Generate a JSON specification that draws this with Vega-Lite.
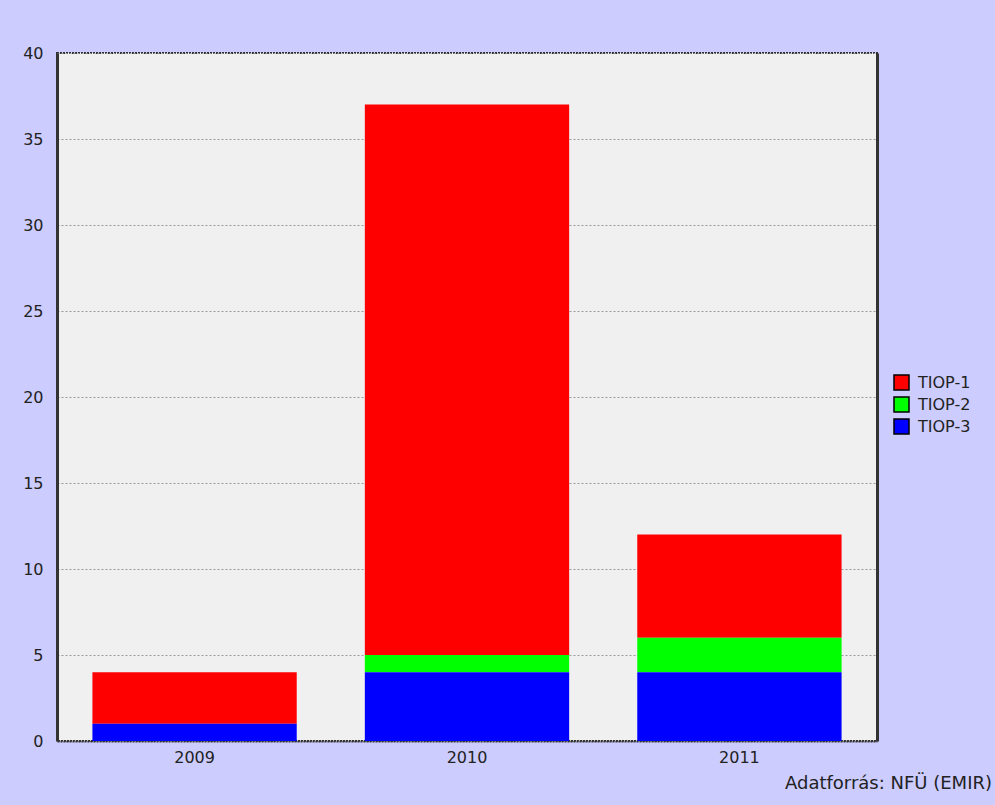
{
  "$schema": "https://vega.github.io/schema/vega-lite/v6.json",
  "width": 820,
  "height": 688,
  "autosize": {"type": "none"},
  "padding": {"left": 57, "top": 53, "right": 118, "bottom": 64},
  "background": "#CCCCFF",
  "view": {"fill": "#F0F0F0", "stroke": "#333333", "strokeWidth": 2, "strokeDash": [2, 1]},
  "title": {
    "text": "Adatforrás: NFÜ (EMIR)",
    "orient": "bottom",
    "anchor": "end",
    "frame": "group",
    "align": "right",
    "dx": 115,
    "offset": 10,
    "font": "DejaVu Sans",
    "fontSize": 18,
    "fontWeight": "normal",
    "color": "#222222"
  },
  "data": {
    "values": [
      {"year": "2009", "series": "TIOP-1", "value": 3},
      {"year": "2009", "series": "TIOP-2", "value": 0},
      {"year": "2009", "series": "TIOP-3", "value": 1},
      {"year": "2010", "series": "TIOP-1", "value": 32},
      {"year": "2010", "series": "TIOP-2", "value": 1},
      {"year": "2010", "series": "TIOP-3", "value": 4},
      {"year": "2011", "series": "TIOP-1", "value": 6},
      {"year": "2011", "series": "TIOP-2", "value": 2},
      {"year": "2011", "series": "TIOP-3", "value": 4}
    ]
  },
  "config": {
    "font": "DejaVu Sans"
  },
  "layer": [
    {
      "mark": {"type": "bar"},
      "encoding": {
        "x": {
          "field": "year",
          "type": "nominal",
          "scale": {"paddingInner": 0.25, "paddingOuter": 0.13},
          "axis": {
            "title": null,
            "labelAngle": 0,
            "ticks": false,
            "domain": true,
            "domainColor": "#333333",
            "domainWidth": 2,
            "domainDash": [2, 1],
            "labelFont": "DejaVu Sans",
            "labelFontSize": 16,
            "labelColor": "#222222",
            "labelPadding": 8
          }
        },
        "y": {
          "field": "value",
          "type": "quantitative",
          "aggregate": "sum",
          "stack": "zero",
          "scale": {"domain": [0, 40], "nice": false},
          "axis": {
            "title": null,
            "values": [0, 5, 10, 15, 20, 25, 30, 35, 40],
            "ticks": false,
            "grid": true,
            "gridColor": "#999999",
            "gridDash": [2, 2],
            "gridWidth": 1,
            "domain": true,
            "domainColor": "#333333",
            "domainWidth": 3,
            "labelFont": "DejaVu Sans",
            "labelFontSize": 16,
            "labelColor": "#222222",
            "labelPadding": 14
          }
        },
        "color": {
          "field": "series",
          "type": "nominal",
          "scale": {"domain": ["TIOP-1", "TIOP-2", "TIOP-3"], "range": ["#FF0000", "#00FF00", "#0000FF"]},
          "legend": {
            "title": null,
            "orient": "none",
            "legendX": 836,
            "legendY": 321,
            "symbolType": "square",
            "symbolSize": 225,
            "symbolStrokeColor": "#000000",
            "symbolStrokeWidth": 1.5,
            "symbolOpacity": 1,
            "labelFont": "DejaVu Sans",
            "labelFontSize": 16,
            "labelColor": "#222222",
            "labelOffset": 8,
            "rowPadding": 1,
            "padding": 0
          }
        },
        "order": {"field": "series", "sort": "descending"}
      }
    },
    {
      "mark": {"type": "rule", "opacity": 0},
      "encoding": {
        "y": {
          "field": "value",
          "type": "quantitative",
          "aggregate": "sum",
          "scale": {"domain": [0, 40], "nice": false},
          "axis": {
            "orient": "right",
            "title": null,
            "labels": false,
            "ticks": false,
            "grid": false,
            "domain": true,
            "domainColor": "#333333",
            "domainWidth": 3
          }
        }
      }
    }
  ],
  "resolve": {"axis": {"y": "independent"}}
}
